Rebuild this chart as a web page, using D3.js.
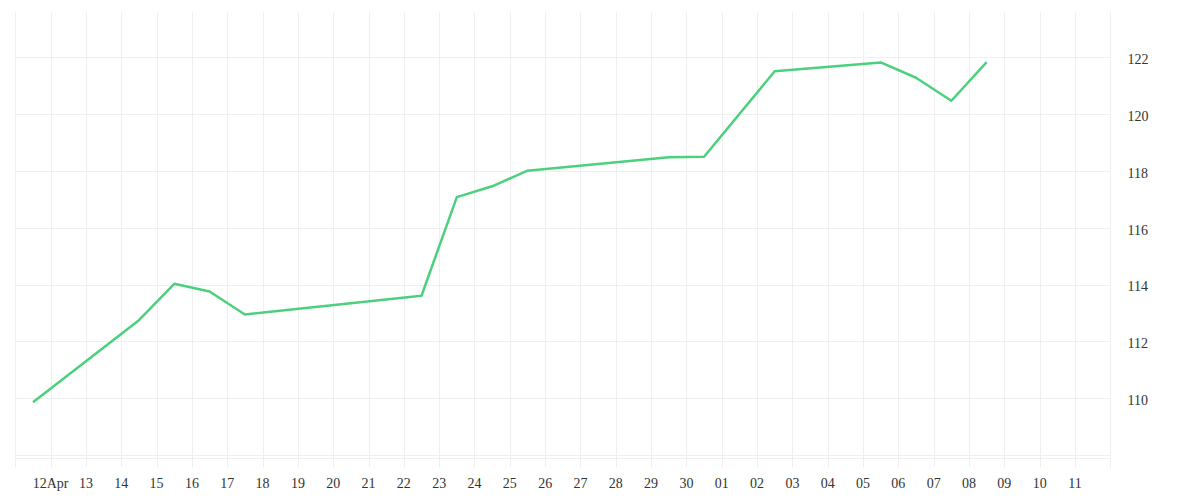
<!DOCTYPE html>
<html>
<head>
<meta charset="utf-8">
<script src="https://cdn.jsdelivr.net/npm/d3@7/dist/d3.min.js"></script>
<style>
  html, body { margin: 0; padding: 0; background: #ffffff; }
  svg { display: block; }
</style>
</head>
<body>
<svg id="chart" width="1200" height="500"></svg>
<script>
// ---- data ----
const dates = [
  "2020-04-11T12:00", "2020-04-14T12:00", "2020-04-15T12:00", "2020-04-16T12:00",
  "2020-04-17T12:00", "2020-04-22T12:00", "2020-04-23T12:00", "2020-04-24T12:00",
  "2020-04-25T12:00", "2020-04-29T12:00", "2020-04-30T12:00", "2020-05-02T12:00",
  "2020-05-05T12:00", "2020-05-06T12:00", "2020-05-07T12:00", "2020-05-08T12:00"
];
const values = [
  109.86, 112.75, 114.03, 113.76,
  112.95, 113.61, 117.08, 117.46,
  118.01, 118.48, 118.50, 121.51,
  121.82, 121.28, 120.47, 121.83
];
const xTickDates = [
  "2020-04-12", "2020-04-13", "2020-04-14", "2020-04-15", "2020-04-16", "2020-04-17",
  "2020-04-18", "2020-04-19", "2020-04-20", "2020-04-21", "2020-04-22", "2020-04-23",
  "2020-04-24", "2020-04-25", "2020-04-26", "2020-04-27", "2020-04-28", "2020-04-29",
  "2020-04-30", "2020-05-01", "2020-05-02", "2020-05-03", "2020-05-04", "2020-05-05",
  "2020-05-06", "2020-05-07", "2020-05-08", "2020-05-09", "2020-05-10", "2020-05-11"
];
const xTickLabels = [
  "12Apr", "13", "14", "15", "16", "17", "18", "19", "20", "21", "22", "23",
  "24", "25", "26", "27", "28", "29", "30", "01", "02", "03", "04", "05",
  "06", "07", "08", "09", "10", "11"
];
const yTicks = [110, 112, 114, 116, 118, 120, 122];
const yGridExtra = [108];

// ---- layout ----
const svg = d3.select("#chart");
const padLeft = 15.3, padRight = 1110.3, padTop = 12, gridBottom = 467;
const parse = d3.utcParse("%Y-%m-%dT%H:%M");
const parseDay = d3.utcParse("%Y-%m-%d");

const x = d3.scaleUtc()
  .domain([parseDay("2020-04-11"), parseDay("2020-05-12")])
  .range([padLeft, padRight]);
const y = d3.scaleLinear()
  .domain([110, 122])
  .range([398.3, 57.3]);

const gridColor = "#efefef";
const textColor = "#333333";
const font = "'Liberation Serif', 'Times New Roman', serif";

// vertical grid lines (one per day)
const gridDays = d3.utcDay.range(parseDay("2020-04-11"), parseDay("2020-05-12"));
svg.append("g").selectAll("line")
  .data(gridDays)
  .join("line")
  .attr("x1", d => Math.round(x(d)) + 0.5)
  .attr("x2", d => Math.round(x(d)) + 0.5)
  .attr("y1", padTop)
  .attr("y2", gridBottom)
  .attr("stroke", gridColor)
  .attr("stroke-width", 1);

// horizontal grid lines
svg.append("g").selectAll("line")
  .data(yTicks.concat(yGridExtra))
  .join("line")
  .attr("x1", padLeft)
  .attr("x2", padRight)
  .attr("y1", d => Math.round(y(d)) + 0.5)
  .attr("y2", d => Math.round(y(d)) + 0.5)
  .attr("stroke", gridColor)
  .attr("stroke-width", 1);

// bottom border line of the pane
svg.append("line")
  .attr("x1", padLeft).attr("x2", padRight)
  .attr("y1", 458.5).attr("y2", 458.5)
  .attr("stroke", gridColor).attr("stroke-width", 1);

// right scale border
svg.append("line")
  .attr("x1", 1110.5).attr("x2", 1110.5)
  .attr("y1", padTop).attr("y2", 468)
  .attr("stroke", gridColor).attr("stroke-width", 1);

// y labels (right side)
svg.append("g").selectAll("text")
  .data(yTicks)
  .join("text")
  .attr("x", 1127.5)
  .attr("y", d => y(d) + 6.8)
  .attr("font-family", font)
  .attr("font-size", 14)
  .attr("fill", textColor)
  .text(d => d);

// x labels
svg.append("g").selectAll("text")
  .data(xTickDates.map((d, i) => ({ d: parseDay(d), label: xTickLabels[i] })))
  .join("text")
  .attr("x", d => x(d.d))
  .attr("y", 488)
  .attr("text-anchor", "middle")
  .attr("font-family", font)
  .attr("font-size", 14)
  .attr("fill", textColor)
  .text(d => d.label);

// line series
const pts = dates.map((d, i) => ({ t: parse(d), v: values[i] }));
svg.append("path")
  .datum(pts)
  .attr("fill", "none")
  .attr("stroke", "#4cd07d")
  .attr("stroke-width", 2.5)
  .attr("stroke-linejoin", "round")
  .attr("d", d3.line().x(d => x(d.t)).y(d => y(d.v)));
</script>
</body>
</html>
